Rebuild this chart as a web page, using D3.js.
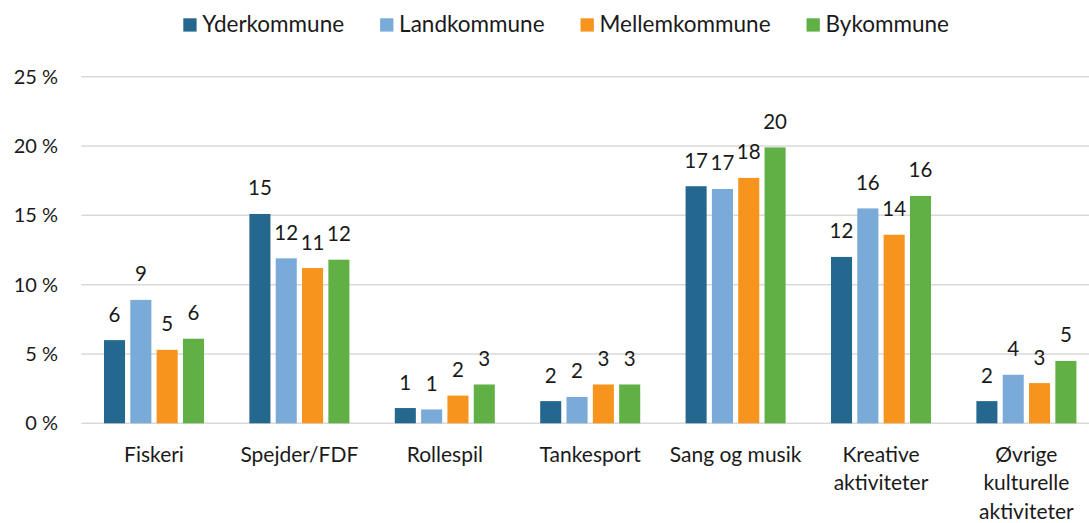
<!DOCTYPE html>
<html><head><meta charset="utf-8">
<script src="https://cdn.jsdelivr.net/npm/d3@7"></script>
<style>
body{margin:0;background:#fff;}
svg text{font-family:Lato,"Noto Sans",sans-serif;fill:#1a1a1a;}
</style></head>
<body><svg id="c" width="1089" height="523"></svg>
<script>
const categories = ["Fiskeri","Spejder/FDF","Rollespil","Tankesport","Sang og musik","Kreative aktiviteter","Øvrige kulturelle aktiviteter"];
const categoryLines = [["Fiskeri"],["Spejder/FDF"],["Rollespil"],["Tankesport"],["Sang og musik"],["Kreative","aktiviteter"],["Øvrige","kulturelle","aktiviteter"]];
const seriesNames = ["Yderkommune","Landkommune","Mellemkommune","Bykommune"];
const yderkommune = [6.0, 15.1, 1.1, 1.6, 17.1, 12.0, 1.6];
const landkommune = [8.9, 11.9, 1.0, 1.9, 16.9, 15.5, 3.5];
const mellemkommune = [5.3, 11.2, 2.0, 2.8, 17.7, 13.6, 2.9];
const bykommune = [6.1, 11.8, 2.8, 2.8, 19.9, 16.4, 4.5];
const yTicks = [0, 5, 10, 15, 20, 25];
const colors = ["#25688F","#79AAD8","#F7941D","#61B045"];

const series = [yderkommune, landkommune, mellemkommune, bykommune];
const svg = d3.select("#c");

const x0 = d3.scaleBand().domain(categories).range([81.3, 1099.1]).paddingInner(0.312).paddingOuter(0.156);
const x1 = d3.scaleBand().domain(seriesNames).range([0, x0.bandwidth()]).paddingInner(0.2).paddingOuter(0);
const y = d3.scaleLinear().domain([0, 25]).range([423.3, 76.7]);

// gridlines
svg.append("g").selectAll("line").data(yTicks).join("line")
  .attr("x1", 81.3).attr("x2", 1099).attr("y1", d => y(d)).attr("y2", d => y(d))
  .attr("stroke", "#d9d9d9").attr("stroke-width", 1.5);

// y axis labels
const yAxis = d3.axisLeft(y).tickValues(yTicks).tickSize(0).tickPadding(0).tickFormat(d => d + " %");
const gy = svg.append("g").attr("transform", "translate(58,0)").call(yAxis);
gy.select(".domain").remove();
gy.selectAll("text").style("font-family", "Lato").style("font-size", "20px").attr("fill", "#1a1a1a");

// bars
const groups = svg.append("g").selectAll("g").data(categories).join("g")
  .attr("transform", c => `translate(${x0(c)},0)`);
groups.selectAll("rect").data((c, i) => seriesNames.map((s, j) => ({s, j, v: series[j][i]}))).join("rect")
  .attr("x", d => x1(d.s)).attr("width", x1.bandwidth())
  .attr("y", d => y(d.v)).attr("height", d => y(0) - y(d.v))
  .attr("fill", d => colors[d.j]);
groups.selectAll("text.val").data((c, i) => seriesNames.map((s, j) => ({s, j, v: series[j][i]}))).join("text")
  .attr("class", "val")
  .attr("x", d => x1(d.s) + x1.bandwidth() / 2).attr("y", d => y(d.v) - 18.5)
  .attr("text-anchor", "middle").style("font-size", "20.5px")
  .text(d => Math.round(d.v));

// category labels
const cl = svg.append("g").selectAll("text").data(categories).join("text")
  .attr("x", c => x0(c) + x0.bandwidth() / 2).attr("y", 461.5)
  .attr("text-anchor", "middle").style("font-size", "21px");
cl.selectAll("tspan").data((c, i) => categoryLines[i]).join("tspan")
  .attr("x", function() { return this.parentNode.getAttribute("x"); })
  .attr("dy", (d, k) => k === 0 ? 0 : 28.5)
  .text(d => d);

// legend
const lg = svg.append("g");
let lx = 183.3;
seriesNames.forEach((s, j) => {
  lg.append("rect").attr("x", lx).attr("y", 18.3).attr("width", 13.3).attr("height", 13.3).attr("fill", colors[j]);
  const t = lg.append("text").attr("x", lx + 19).attr("y", 32.3).style("font-size", "22.5px").text(s);
  lx += 19 + t.node().getComputedTextLength() + 36;
});
</script></body></html>
